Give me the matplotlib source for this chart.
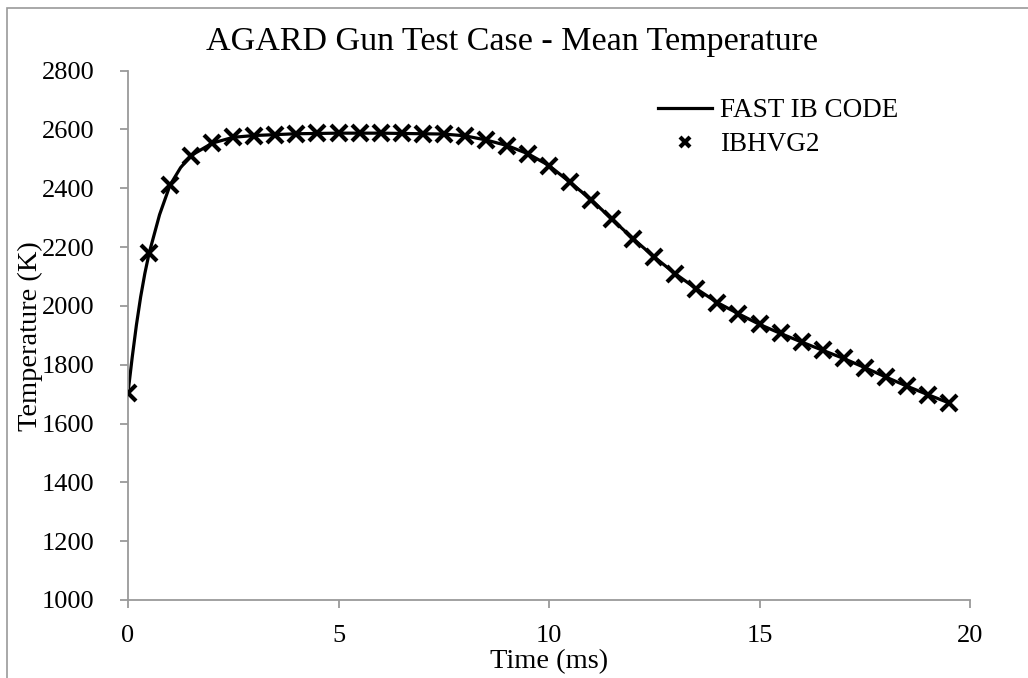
import matplotlib
matplotlib.use("Agg")
import matplotlib.pyplot as plt
from matplotlib.patches import Rectangle

# IBHVG2 marker data (ms, K)
t_ibhvg2 = [0.0, 0.5, 1.0, 1.5, 2.0, 2.5, 3.0, 3.5, 4.0, 4.5, 5.0, 5.5, 6.0, 6.5,
            7.0, 7.5, 8.0, 8.5, 9.0, 9.5, 10.0, 10.5, 11.0, 11.5, 12.0, 12.5,
            13.0, 13.5, 14.0, 14.5, 15.0, 15.5, 16.0, 16.5, 17.0, 17.5, 18.0,
            18.5, 19.0, 19.5]
T_ibhvg2 = [1704, 2178, 2411, 2511, 2553, 2573, 2579, 2582, 2585, 2586, 2587,
            2587, 2587, 2586, 2585, 2584, 2578, 2564, 2545, 2517, 2477, 2420,
            2361, 2294, 2228, 2166, 2109, 2058, 2011, 1973, 1937, 1906, 1877,
            1849, 1821, 1790, 1758, 1727, 1698, 1670]

# FAST IB CODE line (ms, K)
t_fast = [0.0, 0.1, 0.2, 0.3, 0.4, 0.5, 0.75, 1.0, 1.25, 1.5, 2.0, 2.5, 3.0,
          3.5, 4.0, 4.5, 5.0, 5.5, 6.0, 6.5, 7.0, 7.5, 8.0, 8.5, 9.0, 9.5,
          10.0, 10.5, 11.0, 11.5, 12.0, 12.5, 13.0, 13.5, 14.0, 14.5, 15.0,
          15.5, 16.0, 16.5, 17.0, 17.5, 18.0, 18.5, 19.0, 19.5]
T_fast = [1704, 1825, 1935, 2030, 2110, 2178, 2310, 2411, 2470, 2511, 2553,
          2573, 2579, 2582, 2585, 2586, 2587, 2587, 2587, 2586, 2585, 2584,
          2578, 2564, 2545, 2517, 2477, 2420, 2361, 2294, 2228, 2166, 2109,
          2058, 2011, 1973, 1937, 1906, 1877, 1849, 1821, 1790, 1758, 1727,
          1698, 1670]

x_ticks = [0, 5, 10, 15, 20]
y_ticks = [1000, 1200, 1400, 1600, 1800, 2000, 2200, 2400, 2600, 2800]

plt.rcParams['font.family'] = ['Liberation Serif', 'DejaVu Serif']

W, H = 1028, 678
fig = plt.figure(figsize=(W / 100, H / 100), dpi=100)
ax = fig.add_axes([128 / W, 1 - 600 / H, (970 - 128) / W, (600 - 70.5) / H])

ax.plot(t_fast, T_fast, color='black', lw=2.3, label='FAST IB CODE', zorder=2)
ax.plot(t_ibhvg2, T_ibhvg2, linestyle='none', marker='x', color='black',
        markersize=11, markeredgewidth=3.0, label='IBHVG2', zorder=3)

ax.set_xlim(0, 20)
ax.set_ylim(1000, 2800)
ax.set_xticks(x_ticks)
ax.set_yticks(y_ticks)
ax.tick_params(axis='both', colors='#9a9a9a', labelcolor='black', length=6,
               width=1.3, labelsize=19)
ax.tick_params(axis='x', pad=12)
ax.tick_params(axis='y', pad=18)
for s in ['top', 'right']:
    ax.spines[s].set_visible(False)
for s in ['left', 'bottom']:
    ax.spines[s].set_color('#9a9a9a')
    ax.spines[s].set_linewidth(1.3)

fig.text(512 / W, 1 - 42 / H, 'AGARD Gun Test Case - Mean Temperature',
         ha='center', va='center', fontsize=24.5)
fig.text(549 / W, 1 - 662 / H, 'Time (ms)', ha='center', va='center', fontsize=20.5)
fig.text(30 / W, 1 - 336 / H, 'Temperature (K)', ha='center', va='center',
         fontsize=20.5, rotation=90)

leg = ax.legend(loc='upper left', bbox_to_anchor=(658 / W, 1 - 98 / H),
                bbox_transform=fig.transFigure, frameon=False, fontsize=19.5,
                handlelength=2.0, handletextpad=0.3, labelspacing=0.35,
                borderpad=0, borderaxespad=0, markerscale=0.7)

fig.patches.append(Rectangle((6.5 / W, -0.1), 2, 1 - 8 / H + 0.1,
                             transform=fig.transFigure, fill=False,
                             edgecolor='#9a9a9a', lw=1.2))

fig.savefig('out.png', dpi=100)
